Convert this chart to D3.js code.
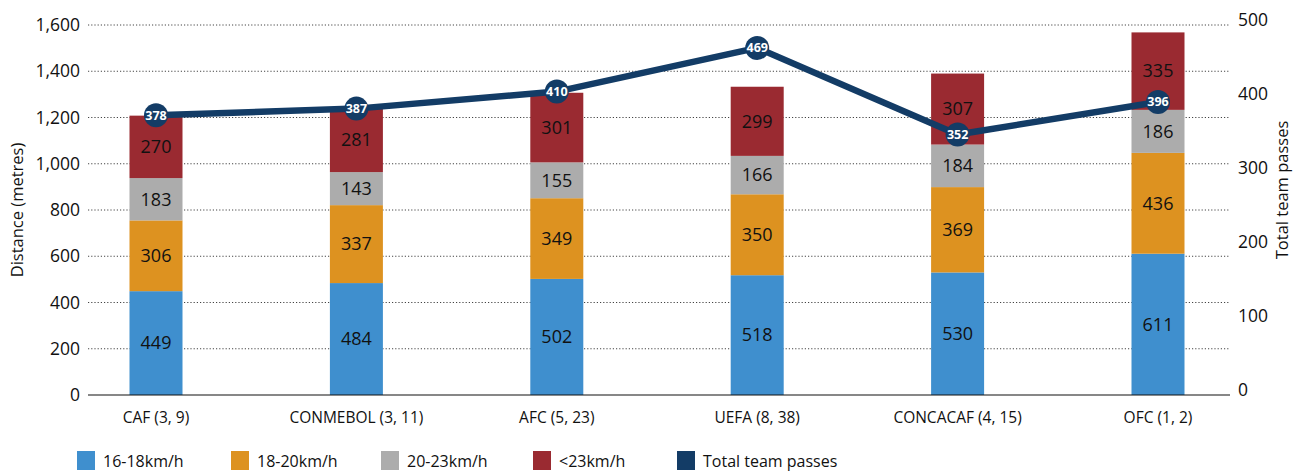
<!DOCTYPE html>
<html>
<head>
<meta charset="utf-8">
<script src="https://cdn.jsdelivr.net/npm/d3@7"></script>
<style>
  html, body { margin: 0; padding: 0; background: #fff; }
  svg { display: block; font-family: "Open Sans", "Noto Sans", sans-serif; }
</style>
</head>
<body>
<svg id="chart" width="1303" height="473"></svg>
<script>
// Confederations with (teams, matches)
const categories = ["CAF (3, 9)", "CONMEBOL (3, 11)", "AFC (5, 23)", "UEFA (8, 38)", "CONCACAF (4, 15)", "OFC (1, 2)"];
// Distance covered per speed band (metres)
const speed16to18 = [449, 484, 502, 518, 530, 611];
const speed18to20 = [306, 337, 349, 350, 369, 436];
const speed20to23 = [183, 143, 155, 166, 184, 186];
const speedOver23 = [270, 281, 301, 299, 307, 335];
// Total team passes
const totalPasses = [378, 387, 410, 469, 352, 396];
// Axis ticks
const leftTicks = [0, 200, 400, 600, 800, 1000, 1200, 1400, 1600];
const rightTicks = [0, 100, 200, 300, 400, 500];

const seriesNames = ["16-18km/h", "18-20km/h", "20-23km/h", "<23km/h"];
const seriesValues = [speed16to18, speed18to20, speed20to23, speedOver23];
const colors = ["#3f8fce", "#dd9220", "#acacac", "#9a2a31"];
const lineColor = "#133c66";

const svg = d3.select("#chart");
const plotLeft = 88, plotRight = 1230, plotTop = 25, plotBottom = 395;

const x = d3.scalePoint().domain(categories).range([156, 1158]);
const yL = d3.scaleLinear().domain([0, 1600]).range([plotBottom, plotTop]);
const yR = d3.scaleLinear().domain([0, 500]).range([plotBottom, plotTop]);
const barW = 53;

// Dotted gridlines
svg.append("g").selectAll("line")
  .data(leftTicks.filter(d => d > 0))
  .join("line")
  .attr("x1", plotLeft).attr("x2", plotRight)
  .attr("y1", d => yL(d)).attr("y2", d => yL(d))
  .attr("stroke", "#444").attr("stroke-width", 1)
  .attr("stroke-dasharray", "1.2,2");

// Left axis labels
const leftAxis = d3.axisLeft(yL).tickValues(leftTicks).tickSize(0).tickPadding(0)
  .tickFormat(d3.format(","));
const gL = svg.append("g").attr("transform", `translate(80,0)`).call(leftAxis);
gL.select(".domain").remove();
gL.selectAll("text").attr("font-size", 17.5).attr("fill", "#111")
  .attr("font-family", "'Open Sans', sans-serif");

// Right axis labels
const rightAxis = d3.axisRight(yR).tickValues(rightTicks).tickSize(0).tickPadding(0);
const gR = svg.append("g").attr("transform", `translate(1238,-5)`).call(rightAxis);
gR.select(".domain").remove();
gR.selectAll("text").attr("font-size", 17.5).attr("fill", "#111")
  .attr("font-family", "'Open Sans', sans-serif");

// Stacked bars
const stackData = categories.map((c, i) => {
  const o = { cat: c };
  seriesNames.forEach((s, k) => o[s] = seriesValues[k][i]);
  return o;
});
const stacked = d3.stack().keys(seriesNames)(stackData);

const layers = svg.append("g").selectAll("g")
  .data(stacked).join("g")
  .attr("fill", (d, k) => colors[k]);

layers.selectAll("rect")
  .data(d => d).join("rect")
  .attr("x", d => x(d.data.cat) - barW / 2)
  .attr("width", barW)
  .attr("y", d => yL(d[1]))
  .attr("height", d => yL(d[0]) - yL(d[1]));

layers.selectAll("text")
  .data(d => d).join("text")
  .attr("x", d => x(d.data.cat))
  .attr("y", d => (yL(d[0]) + yL(d[1])) / 2)
  .attr("dy", "0.35em")
  .attr("text-anchor", "middle")
  .attr("font-size", 18)
  .attr("fill", "#111")
  .text(d => d[1] - d[0]);

// Baseline
svg.append("line")
  .attr("x1", plotLeft).attr("x2", plotRight)
  .attr("y1", plotBottom).attr("y2", plotBottom)
  .attr("stroke", "#111").attr("stroke-width", 1.2);

// Category labels
svg.append("g").selectAll("text")
  .data(categories).join("text")
  .attr("x", d => x(d)).attr("y", 418)
  .attr("dy", "0.35em")
  .attr("text-anchor", "middle")
  .attr("font-size", 15.5)
  .attr("fill", "#111")
  .text(d => d);

// Total passes line
const line = d3.line().x((d, i) => x(categories[i])).y(d => yR(d));
svg.append("path")
  .datum(totalPasses)
  .attr("d", line)
  .attr("fill", "none")
  .attr("stroke", lineColor)
  .attr("stroke-width", 6.5)
  .attr("stroke-linejoin", "round");

const markers = svg.append("g").selectAll("g")
  .data(totalPasses).join("g")
  .attr("transform", (d, i) => `translate(${x(categories[i])},${yR(d)})`);
markers.append("circle").attr("r", 12).attr("fill", lineColor);
markers.append("text")
  .attr("text-anchor", "middle").attr("dy", "0.36em")
  .attr("font-size", 12.5).attr("font-weight", "bold")
  .attr("fill", "#fff")
  .text(d => d);

// Axis titles
svg.append("text")
  .attr("transform", "translate(23,210) rotate(-90)")
  .attr("text-anchor", "middle")
  .attr("font-size", 16.5).attr("fill", "#111")
  .text("Distance (metres)");
svg.append("text")
  .attr("transform", "translate(1282,190) rotate(-90)")
  .attr("text-anchor", "middle")
  .attr("dy", "0.35em")
  .attr("font-size", 16.5).attr("fill", "#111")
  .text("Total team passes");

// Legend
const legendItems = seriesNames.map((n, k) => ({ name: n, color: colors[k] }))
  .concat([{ name: "Total team passes", color: lineColor }]);
const legendX = [77, 231, 381, 533, 677];
const lg = svg.append("g").selectAll("g")
  .data(legendItems).join("g")
  .attr("transform", (d, i) => `translate(${legendX[i]},451)`);
lg.append("rect").attr("width", 18).attr("height", 19).attr("fill", d => d.color);
lg.append("text")
  .attr("x", 26).attr("y", 10).attr("dy", "0.35em")
  .attr("font-size", 16).attr("fill", "#111")
  .text(d => d.name);
</script>
</body>
</html>
